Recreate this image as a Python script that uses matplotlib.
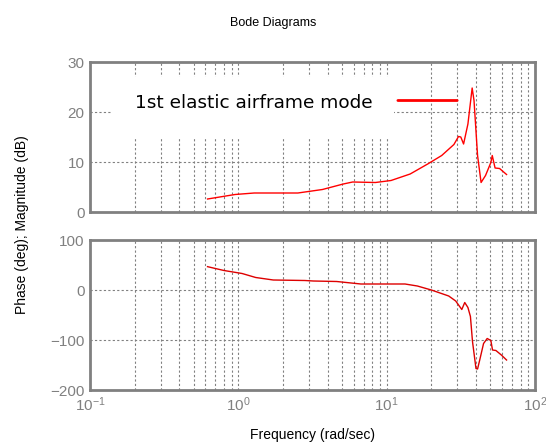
import numpy as np
import matplotlib.pyplot as plt
from matplotlib.ticker import LogLocator, FixedLocator
from matplotlib.patches import Rectangle

plt.rcParams['font.family'] = ['Liberation Sans', 'DejaVu Sans']

# magnitude response
mag_w = [0.62, 0.95, 1.28, 2.52, 3.69, 5.1, 5.9, 8.4, 10.7, 14.4, 18.9, 23.5, 28.4, 30.5,
         31.6, 33.0, 35.3, 37.7, 38.8, 41.0, 43.3, 46.4, 50.4, 51.5, 53.8, 57.7, 60.9, 64.3]
mag_db = [2.6, 3.5, 3.8, 3.8, 4.5, 5.6, 6.0, 5.9, 6.3, 7.6, 9.6, 11.3, 13.5, 15.1,
          15.0, 13.6, 17.6, 24.8, 22.3, 11.3, 5.9, 7.3, 9.9, 11.3, 8.8, 8.7, 8.1, 7.5]

# phase response
ph_w = [0.62, 0.70, 0.80, 1.06, 1.31, 1.72, 2.81, 3.2, 4.6, 6.7, 13.3, 16.1, 20.0, 26.2,
        29.2, 32.1, 33.6, 35.3, 36.7, 37.9, 40.0, 41.0, 42.4, 45.0, 47.6, 50.4, 51.7,
        54.5, 59.3, 64.3]
ph_deg = [46.7, 43, 39, 33, 25, 20, 19, 18, 17, 12, 12, 8, 0, -12,
          -22, -39, -25, -35, -53, -103, -157, -158, -140, -107, -97, -101, -120,
          -121, -130, -140]

grey = '#808080'

fig = plt.figure(figsize=(5.46, 4.44), dpi=100)
ax1 = fig.add_axes([90/546, 1-212/444, 445/546, 150/444])
ax2 = fig.add_axes([90/546, 1-390/444, 445/546, 150/444])

for ax in (ax1, ax2):
    ax.set_xscale('log')
    ax.set_xlim(0.1, 100)
    ax.xaxis.set_major_locator(LogLocator(base=10, numticks=10))
    ax.xaxis.set_minor_locator(LogLocator(base=10, subs=np.arange(2, 10), numticks=20))
    ax.grid(True, which='major', color=grey, ls=(0, (2, 2)), lw=0.8)
    ax.grid(True, which='minor', axis='x', color=grey, ls=(0, (2, 2)), lw=0.8)
    ax.tick_params(which='both', length=0, colors=grey, labelsize=11, pad=4)
    ax.tick_params(axis='both', labelcolor=grey)
    for s in ax.spines.values():
        s.set_color(grey)
        s.set_linewidth(2)

ax1.plot(mag_w, mag_db, color='red', lw=1)
ax1.set_ylim(0, 30)
ax1.yaxis.set_major_locator(FixedLocator([0, 10, 20, 30]))
ax1.tick_params(axis='x', labelbottom=False)

# white label box hiding the grid behind the annotation
ax1.add_patch(Rectangle((111/546, 1-138/444), 283/546, 61/444, transform=fig.transFigure,
                        fc='white', ec='none', zorder=4))
ax1.text(135/546, 1-103/444, '1st elastic airframe mode', transform=fig.transFigure,
         fontsize=13.3, family='DejaVu Sans', va='center', ha='left', zorder=5)
ax1.annotate('', xy=(31.2, 22.3), xytext=(11.4, 22.3),
             arrowprops=dict(arrowstyle='-', color='red', lw=2), zorder=6)

ax2.plot(ph_w, ph_deg, color='#dd0000', lw=1)
ax2.set_ylim(-200, 100)
ax2.yaxis.set_major_locator(FixedLocator([-200, -100, 0, 100]))
ax2.set_xlabel('Frequency (rad/sec)', fontsize=10, color='black', labelpad=10)

fig.text(22/546, 1-225/444, 'Phase (deg); Magnitude (dB)', rotation=90, fontsize=10,
         va='center', ha='center')
fig.suptitle('Bode Diagrams', y=1-17/444, fontsize=9)

fig.savefig('out.png', dpi=100)
